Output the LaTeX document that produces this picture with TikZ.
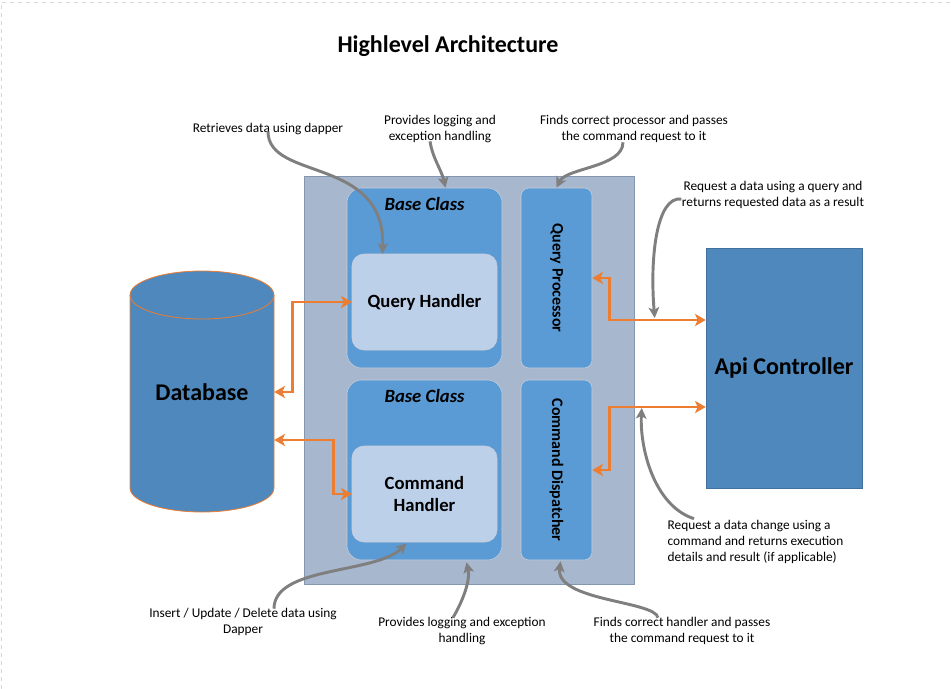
\documentclass[tikz,border=0pt]{standalone}
\usepackage{fontspec}
\setmainfont{Carlito}
\usetikzlibrary{positioning,calc,arrows.meta}

\definecolor{panelfill}{HTML}{A7B7CE}
\definecolor{paneledge}{HTML}{8497B0}
\definecolor{boxblue}{HTML}{5B9BD5}
\definecolor{boxedge}{HTML}{C9CFD8}
\definecolor{handlerfill}{HTML}{BDD0EA}
\definecolor{darkblue}{HTML}{4E88BC}
\definecolor{darkedge}{HTML}{41719C}
\definecolor{linkorange}{HTML}{ED7D31}
\definecolor{notegray}{HTML}{7F7F7F}

\tikzset{
  panel/.style={draw=paneledge, fill=panelfill, minimum width=330*0.75pt, minimum height=408*0.75pt, inner sep=0pt},
  baseclass/.style={draw=boxedge, fill=boxblue, rounded corners=11pt, minimum width=155*0.75pt, minimum height=180*0.75pt, inner sep=0pt},
  basetitle/.style={font=\fontsize{14}{16}\selectfont\bfseries\itshape},
  handler/.style={draw=boxedge, fill=handlerfill, rounded corners=9pt, minimum width=145*0.75pt, minimum height=96*0.75pt, inner sep=0pt, align=center, font=\fontsize{14}{17}\selectfont\bfseries},
  router/.style={draw=boxedge, fill=boxblue, rounded corners=6pt, minimum width=71*0.75pt, minimum height=180*0.75pt, inner sep=0pt},
  routertext/.style={font=\fontsize{12}{14}\selectfont\bfseries, rotate=-90},
  controller/.style={draw=darkedge, fill=darkblue, minimum width=156*0.75pt, minimum height=240*0.75pt, inner sep=0pt, font=\fontsize{18}{21}\selectfont\bfseries},
  dbtext/.style={minimum width=144*0.75pt, minimum height=193*0.75pt, inner sep=0pt, font=\fontsize{18}{21}\selectfont\bfseries},
  note/.style={align=center, inner sep=1pt, font=\fontsize{10}{12}\selectfont},
  link/.style={draw=linkorange, line width=2pt, {Stealth[length=8pt,width=9pt,inset=2pt]}-{Stealth[length=8pt,width=9pt,inset=2pt]}},
  callout/.style={draw=notegray, line width=2.2pt, -{Stealth[length=8pt,width=8pt,inset=2pt]}},
  pageedge/.style={draw=black!15, dashed, line width=0.6pt}
}

\begin{document}
\begin{tikzpicture}[x=0.75pt, y=-0.75pt]
    \useasboundingbox (0,0) rectangle (951,689);
    %% page edge
    \draw[pageedge] (1,689) -- (1,2) -- (951,2);

    %% title
    \node[font=\fontsize{18}{20}\selectfont\bfseries] (title) at (448,46) {Highlevel Architecture};

    %% container and boxes
    \node[panel] (panel) at (469,380) {};
    \node[baseclass] (bc1) at (424.5,278) {};
    \node[baseclass] (bc2) at (424.5,470) {};
    \node[basetitle] (bt1) at ($(bc1.north)+(0,16)$) {Base Class};
    \node[basetitle] (bt2) at ($(bc2.north)+(0,16)$) {Base Class};
    \node[handler] (qh) at (424.5,302) {Query Handler};
    \node[handler] (ch) at (424.5,494) {Command\\Handler};
    \node[router] (qp) at (556.5,278) {};
    \node[router] (cd) at (556.5,470) {};
    \node[routertext] at (qp.center) {Query Processor};
    \node[routertext] at (cd.center) {Command Dispatcher};
    \node[controller] (api) at (784,368) {Api Controller};

    %% database cylinder
    \fill[darkblue] (130,295) -- (130,488) arc[start angle=180, end angle=360, x radius=72, y radius=-24] -- (274,295) -- cycle;
    \draw[linkorange, line width=0.6pt] (130,295) -- (130,488) arc[start angle=180, end angle=360, x radius=72, y radius=-24] -- (274,295);
    \draw[linkorange, line width=0.6pt, fill=darkblue] (202,295) ellipse[x radius=72, y radius=24];
    \node[dbtext] (db) at (202,392) {Database};

    %% data links
    \draw[link] (db.east) -- ++(18,0) |- (qh.west);
    \draw[link] ($(db.east)+(0,48)$) -- ++(59,0) |- (ch.west);
    \draw[link] (qp.east) -- ++(17,0) |- ($(api.west)+(0,-48)$);
    \draw[link] (cd.east) -- ++(17,0) |- ($(api.west)+(0,39)$);

    %% notes
    \node[note] (retr) at (268,129) {Retrieves data using dapper};
    \node[note] (logtop) at (440,129) {Provides logging and\\exception handling};
    \node[note] (proc) at (634,129) {Finds correct processor and passes\\the command request to it};
    \node[note] (askq) at (773,195) {Request a data using a query and\\returns requested data as a result};
    \node[note, align=left, anchor=west] (askc) at (666,542) {Request a data change using a\\command and returns execution\\details and result (if applicable)};
    \node[note] (hand) at (682,631) {Finds correct handler and passes\\the command request to it};
    \node[note] (logbot) at (462,631) {Provides logging and exception\\handling};
    \node[note] (ins) at (243,622) {Insert / Update / Delete data using\\Dapper};

    %% callout arrows
    \coordinate (tqh) at ($(qh.north)+(-42,0)$);
    \coordinate (tbc1) at ($(bc1.north)+(21,0)$);
    \coordinate (tqp) at (qp.north);
    \coordinate (tqa) at ($(api.west)+(-51,-50)$);
    \coordinate (tca) at ($(api.west)+(-64,40)$);
    \coordinate (tcd) at ($(cd.south)+(4,1)$);
    \coordinate (tbc2) at ($(bc2.south)+(42,2)$);
    \coordinate (tch) at ($(ch.south)+(-18,1)$);
    \draw[callout] ($(retr.south)+(0,-5)$) .. controls +(0,50) and +(3,-98) .. (tqh);
    \draw[callout] ($(logtop.south)+(-10,-3)$) .. controls +(3,18) and +(-4,-18) .. (tbc1);
    \draw[callout] ($(proc.south)+(-11,-2)$) .. controls +(0,25) and +(10,-20) .. (tqp);
    \draw[callout] ($(askq.west)+(1,4)$) .. controls +(-25,-3) and +(-5,-60) .. (tqa);
    \draw[callout] ($(askc.north west)+(28,0)$) .. controls +(-40,-13) and +(-2,40) .. (tca);
    \draw[callout] ($(hand.north)+(-24,2)$) .. controls +(-3,-17) and +(-5,40) .. (tcd);
    \draw[callout] ($(logbot.north)+(-9,2)$) .. controls +(10,-17) and +(4,18) .. (tbc2);
    \draw[callout] ($(ins.north)+(31,2)$) .. controls +(0,-43) and +(-31,31) .. (tch);
\end{tikzpicture}
\end{document}
